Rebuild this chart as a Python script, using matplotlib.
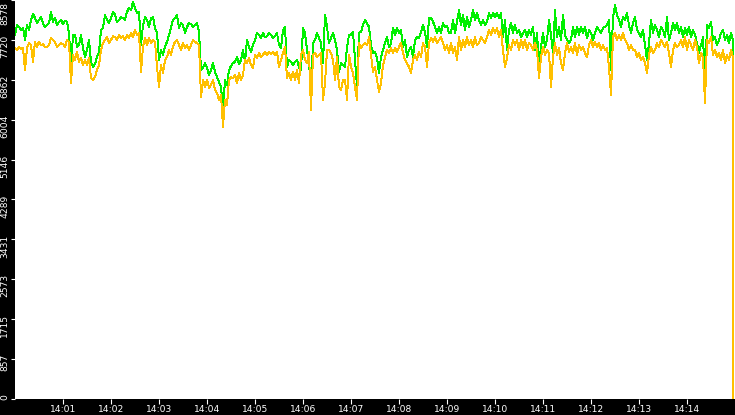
import numpy as np
import pandas as pd
import matplotlib
matplotlib.use("Agg")
import matplotlib.pyplot as plt
from matplotlib.transforms import ScaledTranslation

# ---- data: samples every 2.5 s starting 14:00:00 ----
green_values = [
    7830, 8040, 8000, 7930, 7980, 7720, 8040, 7930, 8150, 8280,
    8190, 8080, 8150, 8210, 8080, 8000, 8040, 8080, 8320, 8110,
    8190, 8040, 8110, 8150, 8060, 8130, 8110, 7870, 7120, 7830,
    7830, 7570, 7610, 7830, 7550, 7350, 7500, 7720, 7250, 7140,
    7200, 7350, 7460, 7930, 7980, 8260, 8150, 8080, 8190, 8320,
    8260, 8110, 8150, 8210, 8190, 8150, 8320, 8410, 8360, 8540,
    8410, 8300, 8320, 7610, 8040, 8210, 8150, 8000, 8190, 8210,
    7980, 7870, 7290, 7500, 7400, 7570, 7680, 7830, 7980, 8150,
    8190, 8260, 7980, 8080, 8040, 7870, 8000, 8080, 8060, 8000,
    8040, 8080, 7890, 7070, 7120, 7220, 7120, 6970, 7070, 7220,
    7030, 6920, 6820, 6710, 6210, 6860, 6750, 7070, 7160, 7220,
    7250, 7350, 7200, 7290, 7500, 7250, 7720, 7570, 7460, 7610,
    7720, 7870, 7830, 7760, 7870, 7780, 7800, 7870, 7830, 7760,
    7800, 7870, 7610, 7550, 7930, 8000, 7140, 7290, 7250, 7180,
    7250, 7290, 7120, 7070, 7980, 7870, 7500, 7220, 6640, 7650,
    7720, 7870, 7760, 7650, 7220, 8260, 8000, 7650, 7760, 7870,
    7720, 7500, 7030, 7220, 7180, 7140, 7550, 7830, 7830, 7890,
    7290, 6710, 7870, 7890, 8040, 8150, 8080, 8000, 7610, 7440,
    7460, 7330, 7010, 7350, 7500, 7650, 7780, 7570, 7650, 7980,
    7830, 7980, 7870, 7930, 7570, 7720, 7350, 7500, 7570, 7350,
    7720, 7780, 7760, 7890, 8040, 7890, 7570, 8190, 8190, 8110,
    8000, 7870, 8000, 7870, 8080, 8000, 8020, 7870, 7870, 8150,
    7870, 8110, 8360, 8040, 8260, 7930, 8210, 8000, 8150, 8360,
    8150, 8300, 8150, 8040, 8150, 8040, 8110, 8300, 8190, 8300,
    8210, 8300, 8190, 8300, 7780, 8150, 7500, 7930, 8080, 7870,
    8040, 7870, 7930, 7780, 7870, 7930, 7780, 7930, 7830, 8000,
    7500, 7870, 7180, 7570, 7870, 7570, 7720, 8150, 7830, 7440,
    8360, 7780, 8000, 7720, 8260, 7830, 7720, 7650, 7720, 8000,
    7780, 8000, 7830, 8000, 7870, 8000, 7760, 7930, 7870, 7720,
    7870, 8000, 7930, 7870, 7980, 8000, 8040, 8150, 7070, 8210,
    8470, 8260, 8150, 8000, 8210, 8150, 8300, 8040, 7870, 8080,
    8210, 7930, 7870, 7780, 7930, 7610, 7290, 7650, 8150, 7870,
    8040, 7930, 7780, 8000, 7930, 7780, 8210, 7720, 7870, 8080,
    7930, 8080, 7870, 8000, 7780, 7980, 7830, 8000, 7780, 7930,
    7830, 7650, 7440, 7610, 7780, 6820, 8040, 7980, 8110, 7720,
    7780, 7610, 7720, 7870, 7930, 7720, 7830, 7650, 7870, 7720,
]
orange_values = [
    7550, 7500, 7570, 7520, 7550, 7070, 7550, 7650, 7610, 7250,
    7680, 7570, 7680, 7610, 7630, 7570, 7570, 7610, 7760, 7720,
    7680, 7570, 7610, 7650, 7630, 7570, 7720, 7680, 6790, 7400,
    7290, 7460, 7250, 7330, 7180, 7290, 7180, 7330, 6900, 6860,
    6920, 7070, 7180, 7500, 7650, 7720, 7780, 7650, 7720, 7800,
    7780, 7720, 7830, 7760, 7800, 7720, 7830, 7760, 7870, 7780,
    7930, 7830, 7870, 7030, 7570, 7760, 7610, 7760, 7650, 7720,
    7680, 7140, 6710, 7180, 7010, 7290, 7350, 7500, 7400, 7570,
    7680, 7720, 7610, 7500, 7650, 7550, 7610, 7500, 7610, 7720,
    7680, 7650, 7610, 6490, 6860, 6710, 6860, 6690, 6750, 6860,
    6640, 6580, 6430, 6540, 5850, 6430, 6320, 6860, 6920, 6900,
    6970, 6790, 7010, 6860, 6970, 7290, 7220, 7330, 7180, 7120,
    7400, 7330, 7440, 7350, 7400, 7460, 7400, 7460, 7420, 7460,
    7400, 7460, 7140, 7290, 7440, 7570, 6900, 7010, 6860, 7030,
    6860, 7070, 6790, 7400, 7500, 7290, 7220, 7460, 6210, 7400,
    7440, 7350, 7400, 7440, 6430, 6790, 7500, 7500, 7440, 7290,
    6860, 7350, 6710, 6640, 6860, 6860, 6430, 7400, 7140, 7010,
    6710, 6430, 7650, 7550, 7610, 7650, 7610, 7780, 7400, 7030,
    7140, 6860, 6600, 6790, 7180, 7350, 7500, 7440, 7550, 7440,
    7550, 7460, 7570, 7650, 7440, 7290, 7220, 7140, 7010, 7290,
    7400, 7290, 7460, 7350, 7650, 7570, 7140, 7650, 7760, 7680,
    7780, 7650, 7720, 7780, 7650, 7500, 7610, 7440, 7650, 7440,
    7570, 7290, 7780, 7500, 7720, 7570, 7780, 7610, 7720, 7570,
    7780, 7610, 7650, 7780, 7720, 7650, 7780, 7930, 7830, 7980,
    7870, 7980, 7780, 7930, 7500, 7140, 7330, 7610, 7500, 7720,
    7610, 7720, 7500, 7720, 7550, 7720, 7500, 7650, 7610, 7500,
    7650, 7500, 6900, 7350, 7570, 7400, 7500, 7440, 6710, 7350,
    7650, 7400, 7550, 7220, 7070, 7440, 7650, 7460, 7570, 7440,
    7650, 7400, 7610, 7500, 7570, 7440, 7350, 7610, 7720, 7570,
    7680, 7570, 7650, 7500, 7610, 7500, 7550, 7120, 6540, 7780,
    7870, 7720, 7830, 7720, 7870, 7720, 7650, 7500, 7610, 7500,
    7500, 7350, 7440, 7290, 7350, 7220, 7010, 7400, 7570, 7440,
    7500, 7650, 7570, 7720, 7650, 7570, 7680, 7440, 7140, 7500,
    7650, 7570, 7610, 7720, 7570, 7780, 7500, 7720, 7610, 7500,
    7720, 7570, 7220, 7440, 7350, 6360, 7720, 7650, 7780, 7400,
    7500, 7350, 7440, 7290, 7500, 7220, 7400, 7290, 7500, 7350,
]
green_last = 3870      # final sample at 14:14:58
orange_last = 0

y_ticks = [0, 857.8, 1715.6, 2573.4, 3431.2, 4289.0, 5146.8, 6004.6, 6862.4, 7720.2, 8578.0]
y_tick_labels = ["0", "857", "1715", "2573", "3431", "4289", "5146", "6004", "6862", "7720", "8578"]
x_tick_labels = ["14:01", "14:02", "14:03", "14:04", "14:05", "14:06", "14:07",
                 "14:08", "14:09", "14:10", "14:11", "14:12", "14:13", "14:14"]

start = pd.Timestamp("2024-01-01 14:00:00")
times = pd.date_range(start, periods=len(green_values), freq="2500ms")
t_all = list(times) + [start + pd.Timedelta(milliseconds=898000)]
g_all = green_values + [green_last]
o_all = orange_values + [orange_last]

W, H = 735, 415
fig = plt.figure(figsize=(W / 100, H / 100), dpi=100, facecolor="black")
ax = fig.add_axes([15 / W, 16 / H, 1 - 15 / W, 1 - 16 / H])
ax.set_facecolor("white")
for s in ax.spines.values():
    s.set_visible(False)

ax.plot(t_all, g_all, color="#00f000", lw=0.7, antialiased=False, zorder=2)
ax.plot(t_all, o_all, color="#ffc000", lw=0.7, antialiased=False, zorder=3)

ax.set_xlim(start, start + pd.Timedelta(minutes=15))
ax.set_ylim(0, 8578)

xt = [start + pd.Timedelta(minutes=i + 1) for i in range(len(x_tick_labels))]
ax.set_xticks(xt)
ax.set_xticklabels(x_tick_labels)
ax.set_yticks(y_ticks)
ax.set_yticklabels(y_tick_labels)

ax.tick_params(axis="x", colors="white", length=3.6, width=0.8, pad=0.8, labelsize=6.6)
ax.tick_params(axis="y", colors="white", length=2.9, width=0.8, pad=1.2, labelsize=6.6)

n = len(y_tick_labels)
for i, lab in enumerate(ax.get_yticklabels()):
    lab.set_rotation(90)
    lab.set_va("top")
    dy_px = 5 if i < n - 1 else -2
    lab.set_transform(lab.get_transform() + ScaledTranslation(0, dy_px / 100, fig.dpi_scale_trans))

fig.savefig("out.png", dpi=100, facecolor="black")
